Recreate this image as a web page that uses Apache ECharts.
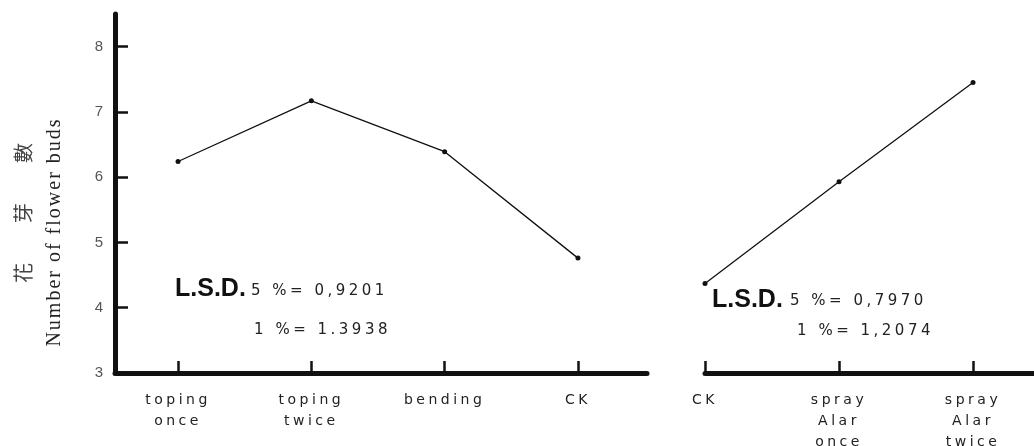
<!DOCTYPE html>
<html><head><meta charset="utf-8">
<script src="https://cdn.jsdelivr.net/npm/echarts@6/dist/echarts.min.js"></script>
<style>html,body{margin:0;padding:0;background:#fff}#c{width:1034px;height:446px}</style>
</head><body><div id="c"></div>
<script>
// ---- data ----
const leftCategories = ['toping\nonce', 'toping\ntwice', 'bending', 'CK'];
const leftValues = [6.24, 7.17, 6.39, 4.76];
const rightCategories = ['CK', 'spray\nAlar\nonce', 'spray\nAlar\ntwice'];
const rightValues = [4.37, 5.93, 7.45];
const yTicks = [3, 4, 5, 6, 7, 8];
const yName = 'Number of flower buds';
const yNameCJK = '花　　芽　　數';
const lsdLeft = ['L.S.D.', '5 %= 0,9201', '1 %= 1.3938'];
const lsdRight = ['L.S.D.', '5 %= 0,7970', '1 %= 1,2074'];

// letter spacing per font family (printed chart uses widely spaced type)
(function () {
  const P = CanvasRenderingContext2D.prototype;
  const of = P.fillText;
  P.fillText = function () {
    if ('letterSpacing' in this) {
      const f = this.font || '';
      if (f.indexOf('DejaVu') >= 0) this.letterSpacing = '3.5px';
      else if (f.indexOf('Serif') >= 0) this.letterSpacing = '2px';
      else this.letterSpacing = '0px';
    }
    return of.apply(this, arguments);
  };
})();

const ink = '#111';
const axisLabelStyle = { color: '#222', fontFamily: 'DejaVu Sans', fontSize: 14, lineHeight: 21, margin: 17 };
const leftIdx = leftCategories.map((c, i) => i);
const rightIdx = rightCategories.map((c, i) => i);

const option = {
  animation: false,
  backgroundColor: '#fff',
  grid: [
    { left: 115, top: 14, width: 532, height: 359, outerBoundsMode: 'none', containLabel: false },
    { left: 705, top: 14, width: 329, height: 359, outerBoundsMode: 'none', containLabel: false }
  ],
  xAxis: [
    {
      type: 'value', gridIndex: 0, min: -0.473, max: 3.518,
      axisLine: { onZero: false, lineStyle: { color: ink, width: 5 } },
      axisTick: { inside: true, length: 12, customValues: leftIdx, lineStyle: { color: ink, width: 2.5 } },
      axisLabel: Object.assign({ customValues: leftIdx, formatter: v => leftCategories[Math.round(v)] }, axisLabelStyle),
      splitLine: { show: false }
    },
    {
      type: 'value', gridIndex: 1, min: 0, max: 2.455,
      axisLine: { onZero: false, lineStyle: { color: ink, width: 5 } },
      axisTick: { inside: true, length: 12, customValues: rightIdx, lineStyle: { color: ink, width: 2.5 } },
      axisLabel: Object.assign({ customValues: rightIdx, formatter: v => rightCategories[Math.round(v)] }, axisLabelStyle),
      splitLine: { show: false }
    }
  ],
  yAxis: [
    {
      type: 'value', gridIndex: 0, min: 3, max: 8.5, interval: 1,
      axisLine: { show: true, onZero: false, lineStyle: { color: ink, width: 5 } },
      axisTick: { show: true, inside: true, length: 13, customValues: yTicks, lineStyle: { color: ink, width: 2.5 } },
      axisLabel: { customValues: yTicks, color: '#555', fontFamily: 'Liberation Sans', fontSize: 15, margin: 12 },
      splitLine: { show: false }
    },
    { type: 'value', gridIndex: 1, min: 3, max: 8.5, show: false }
  ],
  series: [
    {
      type: 'line', xAxisIndex: 0, yAxisIndex: 0, data: leftValues.map((v, i) => [i, v]),
      symbol: 'circle', symbolSize: 5, lineStyle: { color: ink, width: 1.3 }, itemStyle: { color: ink }
    },
    {
      type: 'line', xAxisIndex: 1, yAxisIndex: 1, data: rightValues.map((v, i) => [i, v]),
      symbol: 'circle', symbolSize: 5, lineStyle: { color: ink, width: 1.3 }, itemStyle: { color: ink }
    }
  ],
  graphic: [
    { type: 'text', x: 55, y: 232, rotation: Math.PI / 2,
      style: { text: yName, fontFamily: 'Liberation Serif', fontSize: 20, fill: '#222', textAlign: 'center', textVerticalAlign: 'middle' } },
    { type: 'text', x: 23, y: 213, rotation: Math.PI / 2,
      style: { text: yNameCJK, fontFamily: 'Noto Sans CJK TC', fontSize: 20, fill: '#444', textAlign: 'center', textVerticalAlign: 'middle' } },
    { type: 'text', x: 175, y: 289,
      style: { text: lsdLeft[0], fontFamily: 'Liberation Sans', fontWeight: 'bold', fontSize: 25, fill: ink, textAlign: 'left', textVerticalAlign: 'middle' } },
    { type: 'text', x: 251, y: 291,
      style: { text: lsdLeft[1], fontFamily: 'DejaVu Sans', fontSize: 15, fill: '#222', textAlign: 'left', textVerticalAlign: 'middle' } },
    { type: 'text', x: 391, y: 330,
      style: { text: lsdLeft[2], fontFamily: 'DejaVu Sans', fontSize: 15, fill: '#222', textAlign: 'right', textVerticalAlign: 'middle' } },
    { type: 'text', x: 712, y: 300,
      style: { text: lsdRight[0], fontFamily: 'Liberation Sans', fontWeight: 'bold', fontSize: 25, fill: ink, textAlign: 'left', textVerticalAlign: 'middle' } },
    { type: 'text', x: 790, y: 301,
      style: { text: lsdRight[1], fontFamily: 'DejaVu Sans', fontSize: 15, fill: '#222', textAlign: 'left', textVerticalAlign: 'middle' } },
    { type: 'text', x: 934, y: 331,
      style: { text: lsdRight[2], fontFamily: 'DejaVu Sans', fontSize: 15, fill: '#222', textAlign: 'right', textVerticalAlign: 'middle' } }
  ]
};

const chart = echarts.init(document.getElementById('c'), null, { renderer: 'canvas' });
chart.setOption(option);
</script>
</body></html>
